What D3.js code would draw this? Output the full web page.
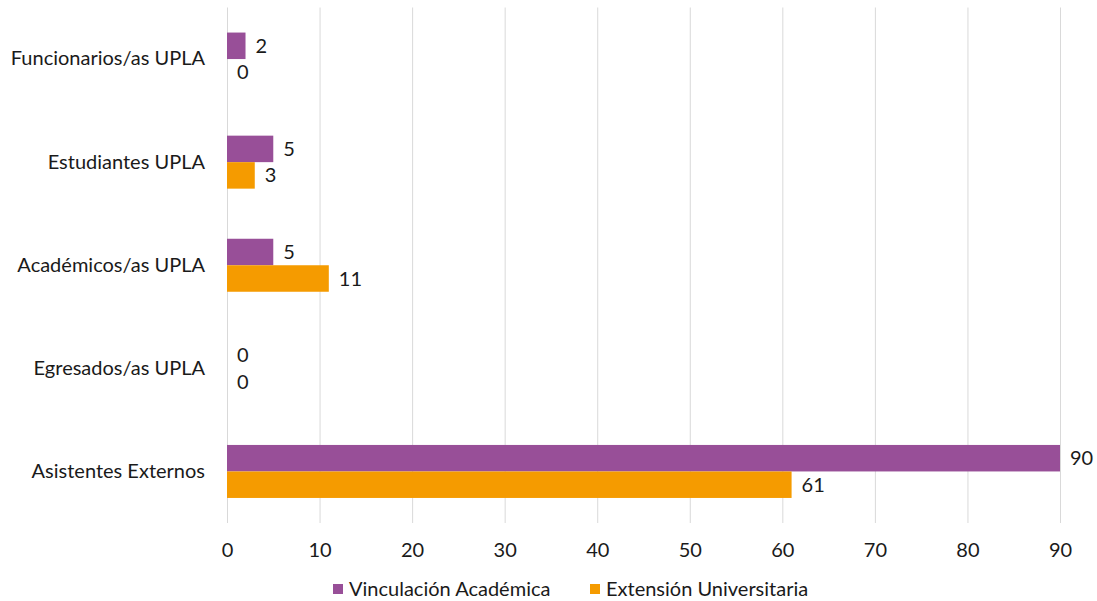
<!DOCTYPE html>
<html><head><meta charset="utf-8">
<script src="https://cdn.jsdelivr.net/npm/d3@7"></script>
<style>body{margin:0;background:#fff}svg{display:block;font-family:Lato,"Open Sans",sans-serif}</style>
</head><body><svg id="c" width="1097" height="601"></svg>
<script>
const categories = ["Funcionarios/as UPLA","Estudiantes UPLA","Académicos/as UPLA","Egresados/as UPLA","Asistentes Externos"];
const seriesNames = ["Vinculación Académica","Extensión Universitaria"];
const vinculacion = [2,5,5,0,90];
const extension = [0,3,11,0,61];
const xTicks = [0,10,20,30,40,50,60,70,80,90];
const colors = ["#984F98","#F59B00"];

const svg = d3.select("#c");
const x = d3.scaleLinear().domain([0,90]).range([227,1060]);
const y = d3.scaleBand().domain(categories).range([7.5,523]).paddingInner(0).paddingOuter(0);
const inner = d3.scaleBand().domain([0,1]).range([0,53]);
const step = y.bandwidth();
const offset = (step-53)/2;
const textColor = "#1a1a1a";
const fs = 20;

// gridlines
svg.append("g").selectAll("line").data(xTicks).join("line")
  .attr("x1",d=>x(d)+0.5).attr("x2",d=>x(d)+0.5).attr("y1",7.5).attr("y2",523)
  .attr("stroke","#d9d9d9").attr("stroke-width",1);

// x axis labels
const xAxis = d3.axisBottom(x).tickValues(xTicks).tickSize(0).tickPadding(0);
const gx = svg.append("g").attr("transform","translate(0,550)").call(xAxis);
gx.select(".domain").remove();
gx.selectAll("text").attr("font-size",fs).attr("fill",textColor).attr("font-family","Lato").attr("dy","0.35em");

// y labels
const yAxis = d3.axisLeft(y).tickSize(0).tickPadding(0);
const gy = svg.append("g").attr("transform","translate(205,0)").call(yAxis);
gy.select(".domain").remove();
gy.selectAll("text").attr("font-size",fs).attr("fill",textColor).attr("font-family","Lato");

const series = [vinculacion, extension];
series.forEach((vals,si)=>{
  const g = svg.append("g");
  g.selectAll("rect").data(vals).join("rect")
    .attr("x",x(0)).attr("y",(d,i)=>y(categories[i])+offset+inner(si))
    .attr("width",d=>x(d)-x(0)).attr("height",inner.bandwidth())
    .attr("fill",colors[si]);
  g.selectAll("text").data(vals).join("text")
    .attr("x",d=>x(d)+10).attr("y",(d,i)=>y(categories[i])+offset+inner(si)+inner.bandwidth()/2)
    .attr("dy","0.35em").attr("font-size",fs).attr("fill",textColor)
    .text(d=>d);
});

// legend
const legend = svg.append("g");
const lx = [333,590];
seriesNames.forEach((n,i)=>{
  legend.append("rect").attr("x",lx[i]).attr("y",584).attr("width",10).attr("height",10).attr("fill",colors[i]);
  legend.append("text").attr("x",lx[i]+16).attr("y",589).attr("dy","0.35em").attr("font-size",fs).attr("fill",textColor).text(n);
});
</script></body></html>
